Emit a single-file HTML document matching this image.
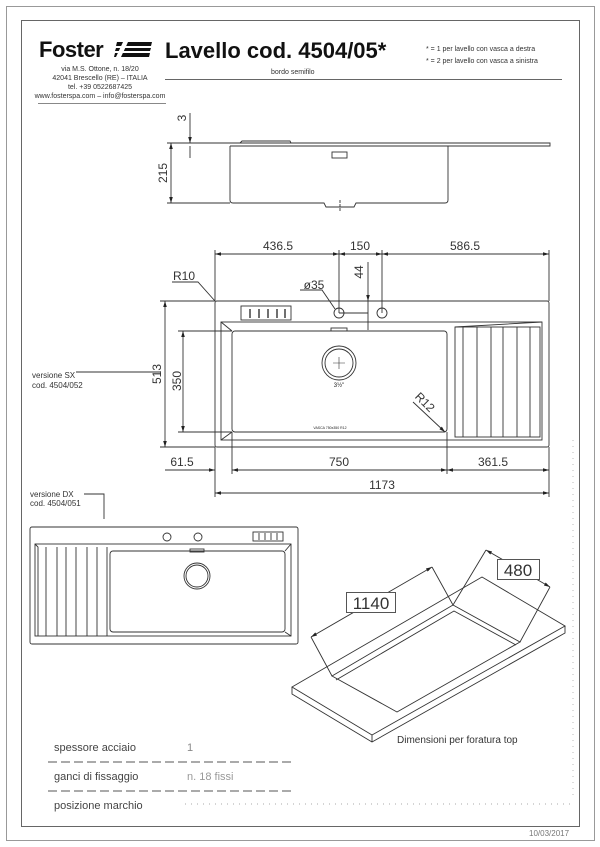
<!DOCTYPE html>
<html><head><meta charset="utf-8"><style>
html,body{margin:0;padding:0;background:#fff}
svg{display:block}
text{font-family:"Liberation Sans",sans-serif;fill:#222}
.t{font-size:12px;fill:#333}
.s{font-size:7px;fill:#333}
</style></head><body>
<svg width="600" height="847" viewBox="0 0 600 847" xmlns="http://www.w3.org/2000/svg">
<defs>
<marker id="a" viewBox="0 0 10 6" refX="10" refY="3" markerWidth="8" markerHeight="4" orient="auto-start-reverse"><path d="M0,0L10,3L0,6z" fill="#222"/></marker>
</defs>
<g fill="none" stroke="#555" stroke-width="1">
<rect x="6.5" y="6.5" width="588" height="834" stroke="#999"/>
<rect x="21.5" y="20.5" width="558" height="806" stroke="#666"/>
</g>
<text x="39" y="57" style="font-size:22px;font-weight:bold;fill:#111;letter-spacing:-0.5px">Foster</text>
<g fill="#111"><polygon points="117,42 152,42 151,46 116,46"/><polygon points="116,48 151,48 150,51 115,51"/><polygon points="115,53 150,53 149,57 114,57"/><polygon points="123,42 128,42 121,57 116,57" fill="#fff"/></g>
<text x="165" y="58" style="font-size:22px;font-weight:bold;fill:#111">Lavello cod. 4504/05*</text>
<text x="426" y="51" class="s">* = 1 per lavello con vasca a destra</text>
<text x="426" y="63" class="s">* = 2 per lavello con vasca a sinistra</text>
<text x="271" y="74" class="s">bordo semifilo</text>
<line x1="165" y1="79.5" x2="562" y2="79.5" stroke="#666"/>
<g text-anchor="middle"><text x="100" y="71" class="s">via M.S. Ottone, n. 18/20</text><text x="100" y="80" class="s">42041 Brescello (RE) – ITALIA</text><text x="100" y="89" class="s">tel. +39 0522687425</text><text x="100" y="98" class="s">www.fosterspa.com – info@fosterspa.com</text></g>
<line x1="38" y1="103.5" x2="166" y2="103.5" stroke="#888"/>
<g fill="none" stroke="#333" stroke-width="0.9">
<path d="M191,143 L550,143 L550,146 L230,146"/>
<path d="M240,143 L242,141 L290,141 L291,143"/>
<path d="M230,146 L230,200 Q230,203 233,203 L324,203 L326,207 L354,207 L356,203 L445,203 Q448,203 448,200 L448,146"/>
<rect x="332" y="152" width="15" height="6"/>
<line x1="340" y1="200" x2="340" y2="212" stroke-dasharray="3 1"/>
<line x1="171" y1="143" x2="171" y2="203" marker-start="url(#a)" marker-end="url(#a)"/>
<line x1="167" y1="143" x2="191" y2="143"/><line x1="167" y1="203" x2="230" y2="203"/>
<line x1="190" y1="113" x2="190" y2="143" marker-end="url(#a)"/><line x1="190" y1="146" x2="190" y2="158"/>
</g>
<text transform="translate(186,118) rotate(-90)" class="t" text-anchor="middle">3</text>
<text transform="translate(167,173) rotate(-90)" class="t" text-anchor="middle">215</text>
<g fill="none" stroke="#333" stroke-width="0.9">
<rect x="215" y="301" width="334" height="146" rx="2"/>
<rect x="221" y="322" width="321" height="118"/>
<path d="M221,322 L232,331 M221,440 L232,432 M455,327 L542,322"/>
<rect x="232" y="331" width="215" height="101" rx="3"/>
<rect x="455" y="327" width="85" height="110"/>
<g><line x1="463" y1="327" x2="463" y2="437"/><line x1="477" y1="327" x2="477" y2="437"/><line x1="491" y1="327" x2="491" y2="437"/><line x1="503" y1="327" x2="503" y2="437"/><line x1="517" y1="327" x2="517" y2="437"/><line x1="530" y1="327" x2="530" y2="437"/></g>
<circle cx="339" cy="363" r="17"/><circle cx="339" cy="363" r="14"/>
<path d="M333,363h12M339,357v12" stroke-width="0.6"/>
<circle cx="339" cy="313" r="5"/><circle cx="382" cy="313" r="5"/>
<line x1="339" y1="313" x2="368" y2="313"/>
<rect x="241" y="306" width="50" height="14"/>
<path d="M250,309v9M259,309v9M268,309v9M277,309v9M285,309v9" stroke-width="1.4"/>
<rect x="331" y="328" width="16" height="3"/>
<line x1="215" y1="254" x2="339" y2="254" marker-start="url(#a)" marker-end="url(#a)"/>
<line x1="339" y1="254" x2="382" y2="254" marker-start="url(#a)" marker-end="url(#a)"/>
<line x1="382" y1="254" x2="549" y2="254" marker-start="url(#a)" marker-end="url(#a)"/>
<path d="M215,250V301M339,250V313M382,250V313M549,250V301"/>
<line x1="368" y1="262" x2="368" y2="301" marker-end="url(#a)"/><line x1="368" y1="301" x2="368" y2="330"/>
<path d="M300,290 L322,290 L335,309"/>
<path d="M172,282 L198,282 L215,301"/>
<path d="M413,402 L445,432" marker-end="url(#a)"/>
<line x1="165" y1="301" x2="165" y2="447" marker-start="url(#a)" marker-end="url(#a)"/>
<path d="M160,301H215M160,447H215"/>
<line x1="183" y1="331" x2="183" y2="432" marker-start="url(#a)" marker-end="url(#a)"/>
<path d="M178,331H232M178,432H232"/>
<line x1="165" y1="470" x2="215" y2="470" marker-end="url(#a)"/>
<line x1="232" y1="470" x2="447" y2="470" marker-start="url(#a)" marker-end="url(#a)"/>
<line x1="447" y1="470" x2="549" y2="470" marker-start="url(#a)" marker-end="url(#a)"/>
<line x1="215" y1="493" x2="549" y2="493" marker-start="url(#a)" marker-end="url(#a)"/>
<path d="M215,447V497M232,432V474M447,432V474M549,447V497"/>
<path d="M76,372H160"/>
</g>
<g text-anchor="middle">
<text x="278" y="250" class="t">436.5</text><text x="360" y="250" class="t">150</text><text x="465" y="250" class="t">586.5</text>
<text x="314" y="289" class="t">ø35</text><text x="184" y="280" class="t">R10</text>
<text x="182" y="466" class="t">61.5</text><text x="339" y="466" class="t">750</text><text x="493" y="466" class="t">361.5</text>
<text x="382" y="489" class="t">1173</text>
</g>
<text transform="translate(363,272) rotate(-90)" class="t" text-anchor="middle">44</text>
<text transform="translate(161,374) rotate(-90)" class="t" text-anchor="middle">513</text>
<text transform="translate(181,381) rotate(-90)" class="t" text-anchor="middle">350</text>
<text transform="translate(422,405) rotate(45)" class="t" text-anchor="middle">R12</text>
<text x="339" y="387" style="font-size:6px" text-anchor="middle">3½"</text>
<text x="330" y="429" style="font-size:3.5px" text-anchor="middle">VASCA 750x350 R12</text>
<text x="32" y="378" class="s" style="font-size:8px">versione SX</text>
<text x="32" y="388" class="s" style="font-size:8px">cod. 4504/052</text>
<text x="30" y="497" class="s" style="font-size:8px">versione DX</text>
<text x="30" y="506" class="s" style="font-size:8px">cod. 4504/051</text>
<g fill="none" stroke="#333" stroke-width="0.9">
<path d="M84,494H104V519"/>
<rect x="30" y="527" width="268" height="117" rx="2"/>
<rect x="35" y="544" width="256" height="92"/>
<rect x="110" y="551" width="175" height="81" rx="3"/>
<path d="M35,544L38,547V636M291,544L285,551M291,636L285,632"/>
<path d="M46,547V636M57,547V636M66,547V636M76,547V636M87,547V636M97,547V636M107,547V636"/>
<circle cx="197" cy="576" r="13"/><circle cx="197" cy="576" r="11"/>
<circle cx="167" cy="537" r="4"/><circle cx="198" cy="537" r="4"/>
<rect x="253" y="532" width="30" height="9"/>
<path d="M259,533v7M265,533v7M271,533v7M277,533v7"/>
<rect x="190" y="549" width="14" height="3"/>
<path d="M292,687 L482,577 L565,626 L372,735 Z"/>
<path d="M292,687 V694 L372,742 L565,633 V626 M372,735 V742"/>
<path d="M332,676 L453,605 L520,642 L397,712 Z"/>
<path d="M336,680 L454,611 L516,645"/>
<path d="M332,676 L311,637 M453,605 L432,567"/>
<line x1="311" y1="637" x2="432" y2="567" marker-start="url(#a)" marker-end="url(#a)"/>
<path d="M453,605 L486,550 M520,642 L550,587"/>
<line x1="486" y1="550" x2="550" y2="587" marker-start="url(#a)" marker-end="url(#a)"/>
</g>
<rect x="346.5" y="592.5" width="49" height="20" fill="#fff" stroke="#555"/>
<text x="371" y="609" text-anchor="middle" style="font-size:17px;fill:#333">1140</text>
<rect x="497.5" y="559.5" width="42" height="20" fill="#fff" stroke="#555"/>
<text x="518" y="576" text-anchor="middle" style="font-size:17px;fill:#333">480</text>
<text x="397" y="743" style="font-size:10px;fill:#333">Dimensioni per foratura top</text>
<text x="54" y="751" style="font-size:11px;fill:#444">spessore acciaio</text>
<text x="187" y="751" style="font-size:11px;fill:#888">1</text>
<line x1="48" y1="762" x2="293" y2="762" stroke="#555" stroke-dasharray="9 4"/>
<text x="54" y="780" style="font-size:11px;fill:#444">ganci di fissaggio</text>
<text x="187" y="780" style="font-size:11px;fill:#999">n. 18 fissi</text>
<line x1="48" y1="791" x2="293" y2="791" stroke="#555" stroke-dasharray="9 4"/>
<text x="54" y="809" style="font-size:11px;fill:#444">posizione marchio</text>
<line x1="185" y1="804" x2="575" y2="804" stroke="#aaa" stroke-dasharray="1 5"/>
<line x1="573" y1="440" x2="573" y2="800" stroke="#bbb" stroke-dasharray="1 5"/>
<text x="529" y="836" style="font-size:8px;fill:#777">10/03/2017</text>
</svg>
</body></html>
